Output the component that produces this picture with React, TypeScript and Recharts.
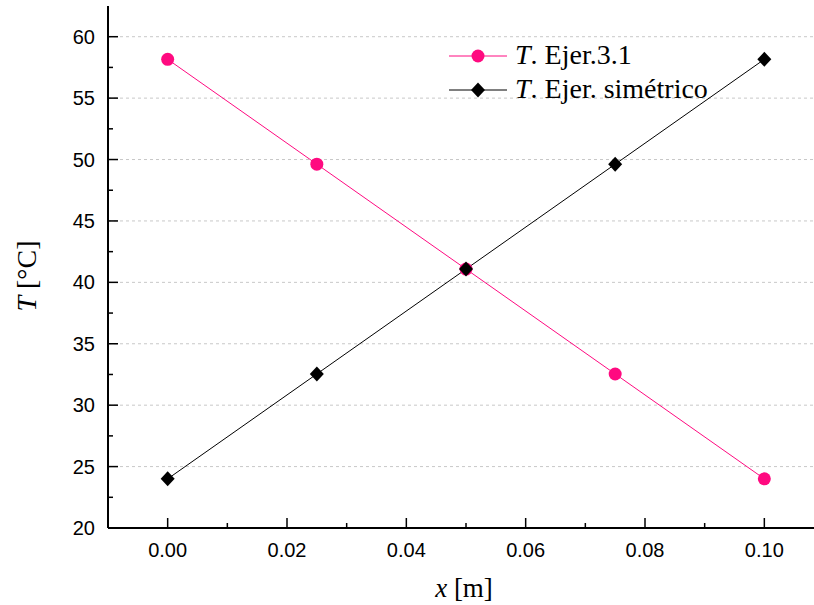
import React from 'react';
import { LineChart, Line, XAxis, YAxis, CartesianGrid, Legend } from 'recharts';

// posiciones (m) y temperaturas (°C)
const positions = [0, 0.025, 0.05, 0.075, 0.1];
const tempEjer31 = [58.16, 49.62, 41.08, 32.54, 24.0];
const tempSimetrico = [24.0, 32.54, 41.08, 49.62, 58.16];

const seriesNames = ['T. Ejer.3.1', 'T. Ejer. simétrico'];

const xTicks = [0, 0.01, 0.02, 0.03, 0.04, 0.05, 0.06, 0.07, 0.08, 0.09, 0.1];
const yTicks = [20, 22.5, 25, 27.5, 30, 32.5, 35, 37.5, 40, 42.5, 45, 47.5, 50, 52.5, 55, 57.5, 60];
const gridValues = [25, 30, 35, 40, 45, 50, 55, 60];

const data = positions.map((x, i) => ({ x, a: tempEjer31[i], b: tempSimetrico[i] }));

const PINK = '#ff0a80';
const SANS = '"Liberation Sans", Arial, sans-serif';
const SERIF = '"Liberation Serif", "Times New Roman", serif';

const isMajorX = (v: number) => Math.round(v * 100) % 2 === 0;
const isMajorY = (v: number) => v % 5 === 0;

const LeftTick = (props: any) => {
  const { x, y, payload } = props;
  const major = isMajorY(payload.value);
  return (
    <g>
      <line x1={x} x2={x + (major ? 10 : 5)} y1={y} y2={y} stroke="#000" strokeWidth={1.5} />
      {major && (
        <text x={x - 13} y={y + 7} textAnchor="end" fontSize={20} fontFamily={SANS} fill="#000">
          {payload.value}
        </text>
      )}
    </g>
  );
};

const RightTick = (props: any) => {
  const { x, y, payload } = props;
  const major = isMajorY(payload.value);
  return <line x1={x} x2={x - (major ? 10 : 5)} y1={y} y2={y} stroke="#000" strokeWidth={1.5} />;
};

const BottomTick = (props: any) => {
  const { x, y, payload } = props;
  const major = isMajorX(payload.value);
  return (
    <g>
      <line x1={x} x2={x} y1={y} y2={y - (major ? 10 : 5)} stroke="#000" strokeWidth={1.5} />
      {major && (
        <text x={x} y={y + 29} textAnchor="middle" fontSize={20} fontFamily={SANS} fill="#000">
          {payload.value.toFixed(2)}
        </text>
      )}
    </g>
  );
};

const TopTick = (props: any) => {
  const { x, y, payload } = props;
  const major = isMajorX(payload.value);
  return <line x1={x} x2={x} y1={y} y2={y + (major ? 10 : 5)} stroke="#000" strokeWidth={1.5} />;
};

const Diamond = (props: any) => {
  const { cx, cy } = props;
  if (cx == null || cy == null) return <g />;
  return (
    <polygon
      points={`${cx},${cy - 7.5} ${cx + 7},${cy} ${cx},${cy + 7.5} ${cx - 7},${cy}`}
      fill="#000"
    />
  );
};

const XTitle = (props: any) => {
  const { viewBox } = props;
  const cx = viewBox.x + viewBox.width / 2 - 2;
  return (
    <text x={cx} y={viewBox.y + 69} textAnchor="middle" fontSize={27} fontFamily={SERIF} fill="#000">
      <tspan fontStyle="italic">x</tspan> [m]
    </text>
  );
};

const YTitle = (props: any) => {
  const { viewBox } = props;
  const cy = viewBox.y + viewBox.height / 2 + 9;
  return (
    <text
      x={36}
      y={cy}
      transform={`rotate(-90 36 ${cy})`}
      textAnchor="middle"
      fontSize={28}
      fontFamily={SERIF}
      fill="#000"
    >
      <tspan fontStyle="italic">T</tspan> [°C]
    </text>
  );
};

const renderLegend = () => (
  <svg width={320} height={80}>
    {seriesNames.map((name, i) => {
      const cy = 20 + i * 34;
      const color = i === 0 ? PINK : '#000';
      return (
        <g key={name}>
          <line x1={9} x2={67} y1={cy} y2={cy} stroke={color} strokeWidth={1} />
          {i === 0 ? (
            <circle cx={38} cy={cy} r={6.5} fill={PINK} />
          ) : (
            <Diamond cx={38} cy={cy} />
          )}
          <text x={75} y={cy + 8} fontSize={28} fontFamily={SERIF} fill="#000">
            <tspan fontStyle="italic">{name.charAt(0)}</tspan>
            {name.slice(1)}
          </text>
        </g>
      );
    })}
  </svg>
);

export default function App() {
  return (
    <div
      style={{
        position: 'absolute',
        left: 0,
        top: 0,
        width: 814,
        height: 605,
        overflow: 'hidden',
        background: '#fff',
      }}
    >
      <LineChart width={840} height={605} data={data} margin={{ top: 6, right: 16, bottom: 0, left: 0 }}>
        <CartesianGrid
          xAxisId="bottom"
          yAxisId="left"
          vertical={false}
          horizontalValues={gridValues}
          stroke="#c8c8c8"
          strokeDasharray="3 3"
        />
        <XAxis
          xAxisId="bottom"
          dataKey="x"
          type="number"
          domain={[-0.01, 0.11]}
          ticks={xTicks}
          interval={0}
          height={77}
          tickSize={0}
          tickMargin={0}
          tickLine={false}
          tick={<BottomTick />}
          axisLine={{ stroke: '#000', strokeWidth: 2 }}
          label={<XTitle />}
        />
        <XAxis
          xAxisId="top"
          orientation="top"
          dataKey="x"
          type="number"
          domain={[-0.01, 0.11]}
          ticks={xTicks}
          interval={0}
          height={0}
          tickSize={0}
          tickMargin={0}
          tickLine={false}
          tick={<TopTick />}
          axisLine={{ stroke: '#000', strokeWidth: 2 }}
        />
        <YAxis
          yAxisId="left"
          type="number"
          domain={[20, 62.5]}
          ticks={yTicks}
          interval={0}
          width={108}
          tickSize={0}
          tickMargin={0}
          tickLine={false}
          tick={<LeftTick />}
          axisLine={{ stroke: '#000', strokeWidth: 2 }}
          allowDataOverflow
          label={<YTitle />}
        />
        <YAxis
          yAxisId="right"
          orientation="right"
          type="number"
          domain={[20, 62.5]}
          ticks={yTicks}
          interval={0}
          width={0}
          tickSize={0}
          tickMargin={0}
          tickLine={false}
          tick={<RightTick />}
          axisLine={{ stroke: '#000', strokeWidth: 2 }}
          allowDataOverflow
        />
        <Legend
          layout="vertical"
          align="center"
          verticalAlign="middle"
          content={renderLegend}
          wrapperStyle={{ position: 'absolute', left: 440, top: 36, width: 320, height: 80 }}
        />
        <Line
          xAxisId="bottom"
          yAxisId="left"
          type="linear"
          dataKey="a"
          name={seriesNames[0]}
          stroke={PINK}
          strokeWidth={1}
          dot={{ r: 6.5, fill: PINK, stroke: 'none' }}
          activeDot={false}
          isAnimationActive={false}
        />
        <Line
          xAxisId="bottom"
          yAxisId="left"
          type="linear"
          dataKey="b"
          name={seriesNames[1]}
          stroke="#000"
          strokeWidth={1}
          dot={(p: any) => <Diamond key={`d-${p.index}`} cx={p.cx} cy={p.cy} />}
          activeDot={false}
          isAnimationActive={false}
        />
      </LineChart>
    </div>
  );
}
